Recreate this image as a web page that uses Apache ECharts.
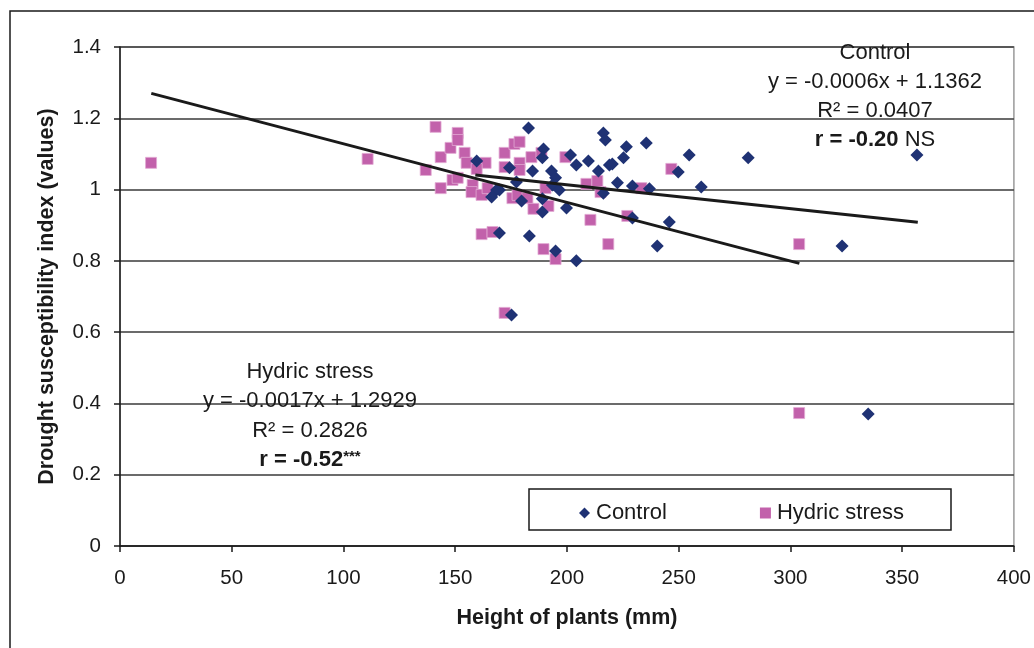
<!DOCTYPE html>
<html>
<head>
<meta charset="utf-8">
<script src="https://cdn.jsdelivr.net/npm/echarts@6/dist/echarts.min.js"></script>
<style>
html,body{margin:0;padding:0;background:#fff;}
#c{width:1034px;height:648px;}
</style>
</head>
<body>
<div id="c"></div>
<script>
// ---- data ----
const seriesNames = ['Control', 'Hydric stress'];
const controlPoints = [
  [159.6,1.080],[168.5,0.999],[166.3,0.979],[174.3,1.061],[182.8,1.173],[189.5,1.114],
  [189.0,1.089],[201.6,1.097],[216.3,1.159],[217.2,1.139],[226.6,1.120],[235.5,1.131],
  [254.7,1.097],[225.3,1.089],[204.2,1.069],[209.6,1.080],[219.0,1.069],[220.3,1.072],
  [184.6,1.052],[193.1,1.052],[214.1,1.052],[249.8,1.049],[194.9,1.033],[193.5,1.013],
  [222.6,1.019],[229.3,1.010],[236.9,1.002],[260.1,1.007],[196.6,0.999],[177.4,1.021],
  [169.8,0.999],[179.7,0.968],[189.0,0.974],[189.0,0.937],[199.8,0.948],[216.3,0.990],
  [229.3,0.920],[245.8,0.909],[169.8,0.878],[183.2,0.870],[194.9,0.828],[204.2,0.800],
  [240.4,0.842],[175.2,0.648],[281.1,1.089],[356.6,1.097],[323.1,0.842],[334.8,0.370]
];
const hydricPoints = [
  [13.9,1.075],[110.8,1.086],[136.8,1.055],[141.2,1.176],[143.5,1.091],[143.5,1.004],
  [147.9,1.117],[151.1,1.159],[151.1,1.139],[154.2,1.103],[155.1,1.075],[148.8,1.027],
  [151.1,1.033],[157.8,1.013],[157.3,0.993],[161.8,0.985],[164.5,1.004],[163.6,1.075],
  [159.6,1.058],[172.1,1.103],[172.1,1.063],[176.5,1.128],[178.8,1.134],[178.8,1.075],
  [178.8,1.055],[184.1,1.091],[188.6,1.103],[199.3,1.091],[175.6,0.976],[177.9,0.985],
  [182.3,0.976],[185.0,0.946],[191.7,0.954],[190.4,1.004],[210.5,0.915],[208.7,1.016],
  [213.6,1.024],[215.0,0.993],[227.0,0.926],[233.3,1.004],[246.7,1.058],[218.5,0.847],
  [189.5,0.833],[194.9,0.805],[161.8,0.875],[166.7,0.881],[172.1,0.654],[303.9,0.847],
  [303.9,0.373]
];
const trendControl = [[159, 1.041], [357, 0.908]];
const trendHydric = [[14, 1.270], [304, 0.793]];
const controlLabels = ['Control', 'y = -0.0006x + 1.1362', 'R² = 0.0407', '{b|r = -0.20} NS'];
const hydricLabels = ['Hydric stress', 'y = -0.0017x + 1.2929', 'R² = 0.2826', '{b|r = -0.52}{s|***}'];
const xTitle = 'Height of plants (mm)';
const yTitle = 'Drought susceptibility index (values)';

// ---- styles ----
const FONT = '"Liberation Sans", Arial, sans-serif';
const NAVY = '#1F3274';
const PINK = '#C261AB';
const INK = '#1a1a1a';

function textBlock(lines, cx, ys) {
  return lines.map((t, i) => ({
    type: 'text',
    x: cx, y: ys[i],
    z: 100,
    style: {
      text: t,
      fontFamily: FONT, fontSize: 22, fill: INK,
      textAlign: 'center', textVerticalAlign: 'middle', verticalAlign: 'middle',
      rich: {
        b: { fontFamily: FONT, fontSize: 22, fontWeight: 'bold', fill: INK },
        s: { fontFamily: FONT, fontSize: 15, fontWeight: 'bold', fill: INK, padding: [0,0,6,0] }
      }
    }
  }));
}

const chart = echarts.init(document.getElementById('c'), null, { renderer: 'canvas' });
chart.setOption({
  backgroundColor: '#fff',
  animation: false,
  textStyle: { fontFamily: FONT },
  grid: { left: 120, right: 20, top: 47, bottom: 102, show: true, borderColor: '#9a9a9a', borderWidth: 1.5 },
  xAxis: {
    type: 'value', min: 0, max: 400, interval: 50,
    name: xTitle, nameLocation: 'middle', nameGap: 61,
    nameTextStyle: { fontFamily: FONT, fontSize: 21.5, fontWeight: 'bold', color: INK },
    axisLine: { show: true, onZero: false, lineStyle: { color: INK, width: 1.5 } },
    axisTick: { show: true, inside: false, length: 6, lineStyle: { color: INK, width: 1.5 } },
    axisLabel: { fontFamily: FONT, fontSize: 20.5, color: INK, margin: 22 },
    splitLine: { show: false }
  },
  yAxis: {
    type: 'value', min: 0, max: 1.4, interval: 0.2,
    name: yTitle, nameLocation: 'middle', nameGap: 62,
    nameTextStyle: { fontFamily: FONT, fontSize: 21.5, fontWeight: 'bold', color: INK },
    axisLine: { show: true, onZero: false, lineStyle: { color: INK, width: 1.5 } },
    axisTick: { show: true, inside: false, length: 6, lineStyle: { color: INK, width: 1.5 } },
    axisLabel: { fontFamily: FONT, fontSize: 20.5, color: INK, margin: 19 },
    splitLine: { show: true, lineStyle: { color: '#3a3a3a', width: 1.5 } }
  },
  legend: {
    data: [
      { name: 'Control', icon: 'diamond', itemStyle: { color: NAVY } },
      { name: 'Hydric stress', icon: 'rect', itemStyle: { color: PINK, borderWidth: 0 } }
    ],
    left: 574, top: 497,
    itemWidth: 11, itemHeight: 11, itemGap: 93,
    textStyle: { fontFamily: FONT, fontSize: 22, color: INK, padding: [0,0,0,1] }
  },
  graphic: [
    { type: 'rect', shape: { x: 10, y: 11, width: 1100, height: 700 }, style: { fill: 'none', stroke: INK, lineWidth: 1.5 }, z: 100, silent: true },
    { type: 'rect', shape: { x: 529, y: 489, width: 422, height: 41 }, style: { fill: '#fff', stroke: INK, lineWidth: 1.5 }, z: -1, silent: true }
  ].concat(textBlock(controlLabels, 875, [53, 82, 111, 140]))
   .concat(textBlock(hydricLabels, 310, [372, 401, 431, 460])),
  series: [
    {
      name: seriesNames[1], type: 'scatter', symbol: 'rect', symbolSize: 11,
      itemStyle: { color: PINK, opacity: 1, borderColor: '#e2a9d3', borderWidth: 0.8 },
      data: hydricPoints, z: 3
    },
    {
      name: seriesNames[0], type: 'scatter', symbol: 'diamond', symbolSize: 13,
      itemStyle: { color: NAVY, opacity: 1 },
      data: controlPoints, z: 4
    },
    {
      name: 'trendControl', type: 'line', data: trendControl, symbol: 'none',
      lineStyle: { color: INK, width: 3 }, z: 5, silent: true
    },
    {
      name: 'trendHydric', type: 'line', data: trendHydric, symbol: 'none',
      lineStyle: { color: INK, width: 3 }, z: 5, silent: true
    }
  ]
});
</script>
</body>
</html>
